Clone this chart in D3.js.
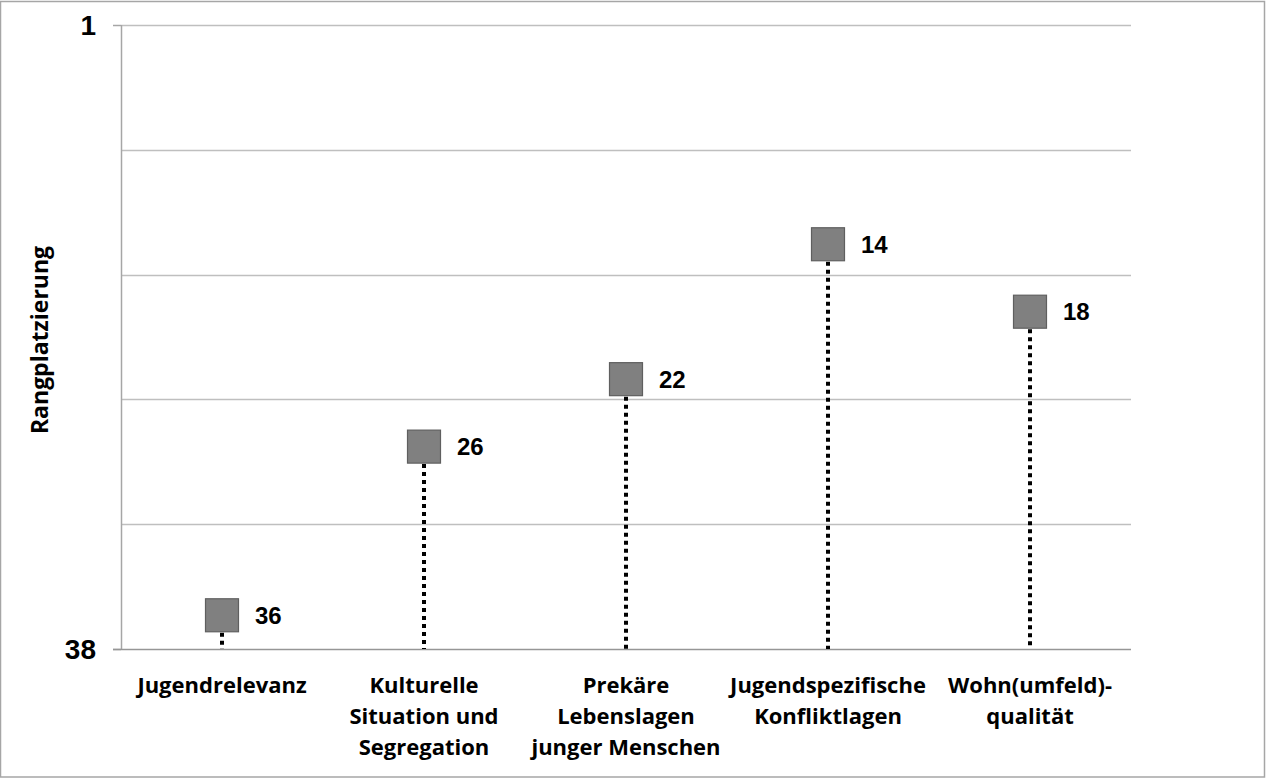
<!DOCTYPE html>
<html>
<head>
<meta charset="utf-8">
<script src="https://cdn.jsdelivr.net/npm/d3@7"></script>
<style>
  html, body { margin: 0; padding: 0; background: #fff; }
  svg { display: block; }
</style>
</head>
<body>
<svg id="chart" width="1266" height="778"></svg>
<script>
// Ranking of the five indicator groups (1 = best rank, 38 = last rank)
const categories = [
  ["Jugendrelevanz"],
  ["Kulturelle", "Situation und", "Segregation"],
  ["Prekäre", "Lebenslagen", "junger Menschen"],
  ["Jugendspezifische", "Konfliktlagen"],
  ["Wohn(umfeld)-", "qualität"]
];
const ranks = [36, 26, 22, 14, 18];
const rankDomain = [38, 1];
const tickLabels = [1, 38];
const axisTitle = "Rangplatzierung";

const svg = d3.select("#chart");
const W = 1266, H = 778;
const m = { left: 121, right: 135, top: 25, bottom: 129 };
const labelFont = "'Open Sans', Lato, sans-serif";
const numberFont = "'Liberation Sans', Arial, sans-serif";

// outer frame
svg.append("rect")
  .attr("x", 0.5).attr("y", 1.5).attr("width", W - 2).attr("height", H - 2.5)
  .attr("fill", "#fff").attr("stroke", "#a6a6a6").attr("stroke-width", 1.5);

const x = d3.scaleBand()
  .domain(d3.range(categories.length))
  .range([m.left, W - m.right])
  .padding(0);

const y = d3.scaleLinear()
  .domain(rankDomain)
  .range([H - m.bottom, m.top]);

// horizontal gridlines at five equal steps
const gridVals = d3.range(6).map(i => rankDomain[0] + (rankDomain[1] - rankDomain[0]) * i / 5);
svg.append("g").selectAll("line")
  .data(gridVals.slice(1))
  .join("line")
  .attr("x1", m.left).attr("x2", W - m.right)
  .attr("y1", d => Math.round(y(d)) + 0.5).attr("y2", d => Math.round(y(d)) + 0.5)
  .attr("stroke", "#bfbfbf").attr("stroke-width", 1.3);

// y axis line and end ticks
svg.append("line")
  .attr("x1", m.left + 0.5).attr("x2", m.left + 0.5)
  .attr("y1", y(rankDomain[1])).attr("y2", y(rankDomain[0]))
  .attr("stroke", "#a6a6a6").attr("stroke-width", 1.5);
svg.append("g").selectAll("line")
  .data(tickLabels)
  .join("line")
  .attr("x1", m.left - 8).attr("x2", m.left)
  .attr("y1", d => Math.round(y(d)) + 0.5).attr("y2", d => Math.round(y(d)) + 0.5)
  .attr("stroke", "#a6a6a6").attr("stroke-width", 1.5);

// baseline
svg.append("line")
  .attr("x1", m.left - 8).attr("x2", W - m.right)
  .attr("y1", Math.round(y(rankDomain[0])) + 0.5).attr("y2", Math.round(y(rankDomain[0])) + 0.5)
  .attr("stroke", "#969696").attr("stroke-width", 1.5);

// tick labels
svg.append("g").selectAll("text")
  .data(tickLabels)
  .join("text")
  .attr("x", 96).attr("y", d => y(d))
  .attr("dy", "0.36em")
  .attr("text-anchor", "end")
  .attr("font-family", numberFont)
  .attr("font-weight", "bold").attr("font-size", 28)
  .attr("fill", "#000")
  .text(d => d);

// axis title
svg.append("text")
  .attr("transform", `translate(48,${(y(1) + y(38)) / 2 + 3}) rotate(-90)`)
  .attr("text-anchor", "middle")
  .attr("font-family", labelFont)
  .attr("font-weight", "bold").attr("font-size", 23)
  .attr("fill", "#000")
  .text(axisTitle);

// category labels
const catG = svg.append("g")
  .attr("font-family", labelFont)
  .attr("font-weight", "bold").attr("font-size", 22)
  .attr("fill", "#000").attr("text-anchor", "middle");
categories.forEach((lines, i) => {
  const t = catG.append("text").attr("x", x(i) + x.bandwidth() / 2).attr("y", 693);
  lines.forEach((ln, j) => {
    t.append("tspan").attr("x", x(i) + x.bandwidth() / 2).attr("dy", j === 0 ? 0 : 31).text(ln);
  });
});

const cx = i => x(i) + x.bandwidth() / 2;
const half = 16.5;

// dotted drop lines
svg.append("g").selectAll("line")
  .data(ranks)
  .join("line")
  .attr("x1", (d, i) => cx(i)).attr("x2", (d, i) => cx(i))
  .attr("y1", d => y(d) + half + 1).attr("y2", y(rankDomain[0]))
  .attr("stroke", "#000").attr("stroke-width", 4)
  .attr("stroke-dasharray", "4,4");

// square markers
svg.append("g").selectAll("rect")
  .data(ranks)
  .join("rect")
  .attr("x", (d, i) => cx(i) - half).attr("y", d => y(d) - half)
  .attr("width", half * 2).attr("height", half * 2)
  .attr("fill", "#808080").attr("stroke", "#5f5f5f").attr("stroke-width", 1.2);

// value labels
svg.append("g").selectAll("text")
  .data(ranks)
  .join("text")
  .attr("x", (d, i) => cx(i) + 33).attr("y", d => y(d))
  .attr("dy", "0.36em")
  .attr("font-family", numberFont)
  .attr("font-weight", "bold").attr("font-size", 24)
  .attr("fill", "#000")
  .text(d => d);
</script>
</body>
</html>
